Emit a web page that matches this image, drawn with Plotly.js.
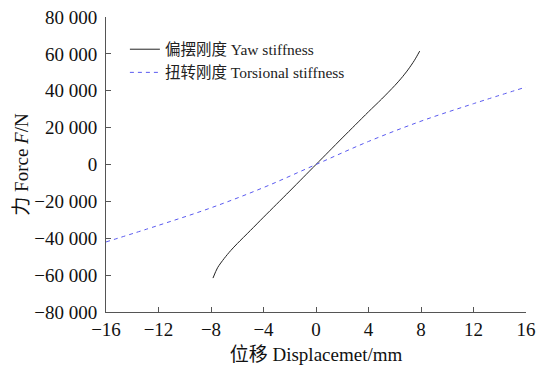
<!DOCTYPE html>
<html>
<head>
<meta charset="utf-8">
<script src="https://cdn.plot.ly/plotly-3.0.1.min.js"></script>
<style>html,body{margin:0;padding:0;background:#fff}#chart{width:536px;height:367px}</style>
</head>
<body>
<div id="chart"></div>
<script>
const yawX = [-7.85, -7.5, -7, -6.5, -6, -5, -4, -3, -2, -1, 0, 1, 2, 3, 4, 5, 6, 6.5, 7, 7.5, 7.9];
const yawY = [-61600, -56000, -51000, -46700, -42900, -35800, -28600, -21500, -14400, -7200, 0, 7200, 14400, 21500, 28600, 35500, 42800, 46800, 51300, 56500, 61500];
const torX = [-16, -12, -8, -4, 0, 4, 8, 12, 16];
const torY = [-42000, -33000, -23500, -12500, 0, 12500, 23500, 33000, 42000];
const seriesNames = ['偏摆刚度 Yaw stiffness', '扭转刚度 Torsional stiffness'];
const xTicks = [-16, -12, -8, -4, 0, 4, 8, 12, 16];
const yTicks = [-80000, -60000, -40000, -20000, 0, 20000, 40000, 60000, 80000];

const FONT = '"Liberation Serif", "Times New Roman", "Noto Sans CJK SC", serif';

const traces = [
  {x: yawX, y: yawY, name: seriesNames[0], mode: 'lines', type: 'scatter',
   line: {color: '#222222', width: 1, shape: 'spline', smoothing: 0.8}},
  {x: torX, y: torY, name: seriesNames[1], mode: 'lines', type: 'scatter',
   line: {color: '#5a5af0', width: 1, dash: '4px,4px', shape: 'spline'}}
];

const layout = {
  width: 536, height: 367,
  margin: {l: 106, r: 10, t: 17, b: 55},
  paper_bgcolor: '#fff', plot_bgcolor: '#fff',
  separators: '. ',
  font: {family: FONT, size: 19, color: '#111'},
  showlegend: true,
  legend: {x: 0.045, y: 0.947, xanchor: 'left', yanchor: 'top', bgcolor: 'rgba(0,0,0,0)',
           font: {family: FONT, size: 15.5, color: '#222'}},
  xaxis: {range: [-16, 16], tickvals: xTicks, tickformat: 'd', ticks: 'inside', ticklen: 5,
          tickfont: {family: FONT, size: 19, color: '#111'},
          tickcolor: '#555', showline: true, linecolor: '#555', linewidth: 1, showgrid: false,
          zeroline: false, mirror: false,
          title: {text: '位移 Displacemet/mm', font: {family: FONT, size: 19}, standoff: 8}},
  yaxis: {range: [-80000, 80000], tickvals: yTicks, tickformat: ',d', ticks: 'inside', ticklen: 5,
          ticklabelstandoff: 4,
          tickfont: {family: FONT, size: 19, color: '#111'},
          tickcolor: '#555', showline: true, linecolor: '#555', linewidth: 1, showgrid: false,
          zeroline: false, mirror: false,
          title: {text: '力 Force <i>F</i>/N', font: {family: FONT, size: 19}, standoff: 0}}
};

Plotly.newPlot('chart', traces, layout, {displayModeBar: false, staticPlot: true});
</script>
</body>
</html>
